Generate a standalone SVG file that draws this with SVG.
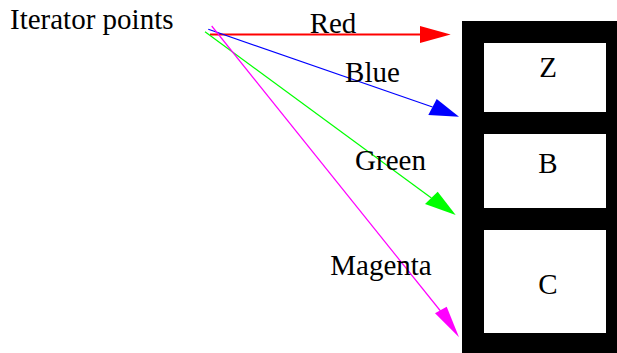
<svg xmlns="http://www.w3.org/2000/svg" width="617" height="353" viewBox="0 0 617 353">
<style>
text{font-family:"Liberation Serif","Times New Roman",serif;font-size:29px;fill:#000}
.m{text-anchor:middle}
.e{fill:none}
</style>
<rect x="0" y="0" width="617" height="353" fill="#fff"/>
<g id="iter"><text x="10" y="29">Iterator points</text></g>
<g id="list">
<rect x="462" y="21" width="155" height="332" fill="#000"/>
<g id="nZ"><rect x="484" y="43" width="122" height="69" fill="#fff"/><text class="m" x="548" y="77">Z</text></g>
<g id="nB"><rect x="484" y="134" width="122" height="74" fill="#fff"/><text class="m" x="548" y="173">B</text></g>
<g id="nC"><rect x="484" y="230" width="122" height="103" fill="#fff"/><text class="m" x="548" y="294">C</text></g>
</g>
<g id="edges">
<line class="e" x1="210" y1="34.5" x2="421" y2="34.5" stroke="#f00" stroke-width="2"/>
<polygon points="420,26 450.7,34.5 420,43" fill="#f00"/>
<text class="m" x="333" y="33">Red</text>
<line class="e" x1="208.3" y1="29.3" x2="432.5" y2="107" stroke="#00f" stroke-width="1.2"/>
<polygon points="436.7,99 459,116.7 428.3,115" fill="#00f"/>
<text class="m" x="372.5" y="82">Blue</text>
<line class="e" x1="205" y1="31.7" x2="431.4" y2="197.9" stroke="#0f0" stroke-width="1.2"/>
<polygon points="437.7,191.7 455.7,215 425,204" fill="#0f0"/>
<text class="m" x="390.5" y="170">Green</text>
<line class="e" x1="211.7" y1="26" x2="440.5" y2="311" stroke="#f0f" stroke-width="1.2"/>
<polygon points="446.7,306.7 459,337.3 435,313.3" fill="#f0f"/>
<text class="m" x="381" y="275">Magenta</text>
</g>
</svg>
